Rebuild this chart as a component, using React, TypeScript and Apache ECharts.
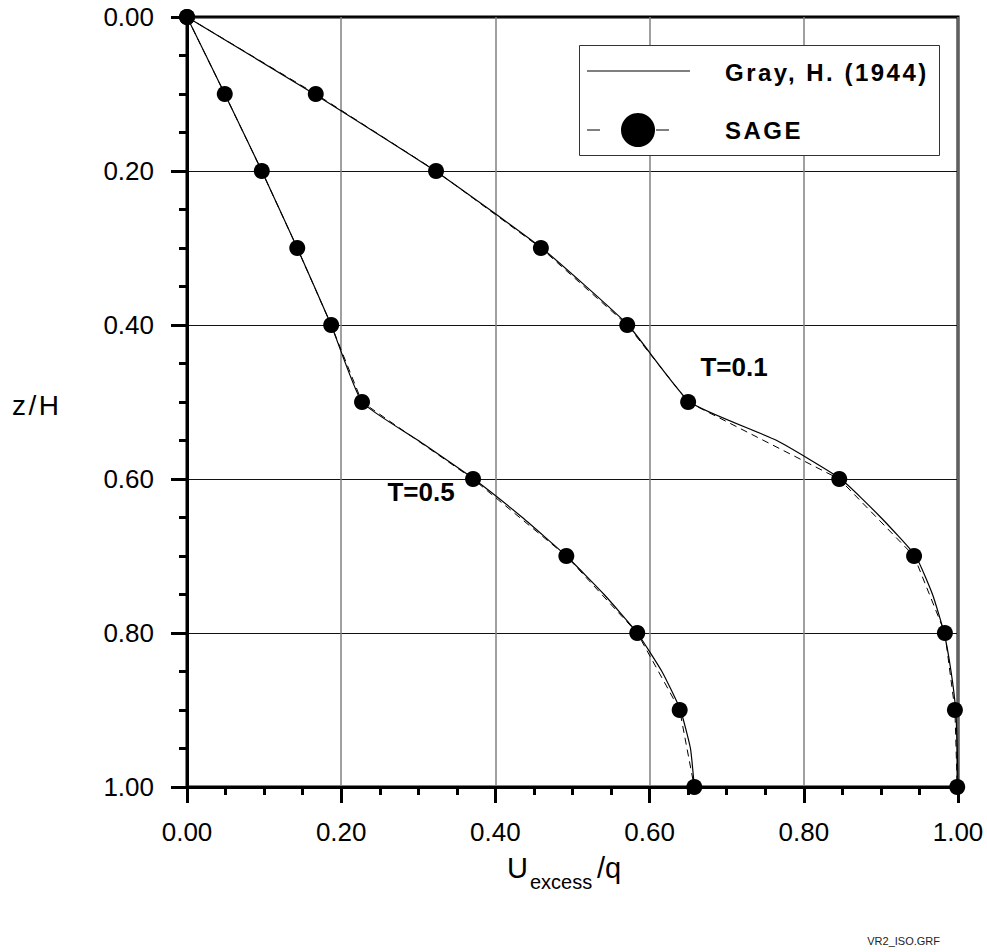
import React, { useEffect, useRef } from "react";
import * as echarts from "echarts";

const FONT = "'Liberation Sans', Arial, sans-serif";
// same face, distinct family list so that a CSS rule can add letter spacing
const SPACED_FONT = "Arimo, 'Liberation Sans', Arial, sans-serif";

// SAGE results (x = Uexcess/q, y = z/H)
const sageZ = [0, 0.1, 0.2, 0.3, 0.4, 0.5, 0.6, 0.7, 0.8, 0.9, 1.0];
const sageT01 = [0, 0.167, 0.323, 0.459, 0.571, 0.65, 0.846, 0.943, 0.983, 0.996, 0.999];
const sageT05 = [0, 0.049, 0.097, 0.143, 0.187, 0.227, 0.371, 0.492, 0.584, 0.639, 0.658];

// Gray, H. (1944) curves
const grayZ = [0, 0.1, 0.2, 0.3, 0.4, 0.5, 0.55, 0.6, 0.65, 0.7, 0.75, 0.8, 0.85, 0.9, 0.95, 1.0];
const grayT01 = [0, 0.165, 0.322, 0.46, 0.572, 0.652, 0.765, 0.848, 0.9, 0.945, 0.967, 0.982, 0.991, 0.997, 0.999, 1.0];
const grayT05 = [0, 0.049, 0.097, 0.143, 0.187, 0.227, 0.3, 0.372, 0.435, 0.492, 0.541, 0.584, 0.616, 0.64, 0.653, 0.658];

const curveLabels = ["T=0.1", "T=0.5"];
const legendNames = ["Gray, H. (1944)", "SAGE"];
const axisTitleParts = ["U", "excess", "/q"];
const yTitle = "z/H";
const footer = "VR2_ISO.GRF";

const pairs = (xs: number[], zs: number[]) => xs.map((x, i) => [x, zs[i]]);

export default function App() {
  const ref = useRef<HTMLDivElement>(null);
  useEffect(() => {
    const chart = echarts.init(ref.current!, null, { renderer: "svg" });
    const gridLeft = 187, gridTop = 17, gridW = 771, gridH = 770;
    const grayLine = (name: string, data: number[][]) => ({
      type: "line",
      name,
      data,
      showSymbol: false,
      symbol: "none",
      smooth: 0.15,
      lineStyle: { color: "#000", width: 1.2 },
      z: 3,
    });
    const sageLine = (name: string, data: number[][]) => ({
      type: "line",
      name,
      data,
      symbol: "circle",
      symbolSize: 16,
      itemStyle: { color: "#000" },
      lineStyle: { color: "#000", width: 1, type: [7, 5] },
      z: 4,
    });
    const axisCommon = {
      type: "value",
      min: 0,
      max: 1,
      interval: 0.2,
      axisLine: { show: true, onZero: false, lineStyle: { color: "#000", width: 3 } },
      axisTick: { show: true, inside: false, length: 16, lineStyle: { color: "#000", width: 3 } },
      minorTick: { show: true, splitNumber: 4, length: 8, lineStyle: { color: "#000", width: 3 } },
    };
    chart.setOption({
      animation: false,
      backgroundColor: "#fff",
      textStyle: { fontFamily: FONT },
      grid: {
        left: gridLeft,
        top: gridTop,
        width: gridW,
        height: gridH,
        show: true,
        borderColor: "#000",
        borderWidth: 3,
        backgroundColor: "transparent",
      },
      xAxis: {
        ...axisCommon,
        position: "bottom",
        splitLine: { show: true, lineStyle: { color: "#808080", width: 1.5 } },
        axisLabel: {
          formatter: (v: number) => v.toFixed(2),
          fontSize: 26,
          color: "#000",
          margin: 32,
          fontFamily: FONT,
        },
      },
      yAxis: {
        ...axisCommon,
        inverse: true,
        position: "left",
        splitLine: { show: true, lineStyle: { color: "#111", width: 1 } },
        axisLabel: {
          formatter: (v: number) => v.toFixed(2),
          fontSize: 26,
          color: "#000",
          margin: 33,
          fontFamily: FONT,
        },
      },
      series: [
        grayLine(legendNames[0], pairs(grayT01, grayZ)),
        grayLine(legendNames[0] + " T0.5", pairs(grayT05, grayZ)),
        sageLine(legendNames[1], pairs(sageT01, sageZ)),
        sageLine(legendNames[1] + " T0.5", pairs(sageT05, sageZ)),
      ],
      graphic: [
        {
          type: "text",
          x: 12,
          y: 405,
          style: { text: yTitle, fontSize: 28, fill: "#000", fontFamily: SPACED_FONT, verticalAlign: "middle" },
        },
        {
          type: "text",
          x: 507,
          y: 868,
          style: { text: axisTitleParts[0], fontSize: 29, fill: "#000", fontFamily: FONT, verticalAlign: "middle" },
        },
        {
          type: "text",
          x: 530,
          y: 882,
          style: { text: axisTitleParts[1], fontSize: 20, fill: "#000", fontFamily: FONT, verticalAlign: "middle" },
        },
        {
          type: "text",
          x: 597,
          y: 868,
          style: { text: axisTitleParts[2], fontSize: 29, fill: "#000", fontFamily: FONT, verticalAlign: "middle" },
        },
        {
          type: "text",
          x: 734,
          y: 367,
          style: { text: curveLabels[0], fontSize: 26, fontWeight: "bold", fill: "#000", fontFamily: FONT, align: "center", verticalAlign: "middle" },
        },
        {
          type: "text",
          x: 421,
          y: 492,
          style: { text: curveLabels[1], fontSize: 26, fontWeight: "bold", fill: "#000", fontFamily: FONT, align: "center", verticalAlign: "middle" },
        },
        // legend box
        {
          type: "rect",
          shape: { x: 579.5, y: 45.5, width: 360, height: 110 },
          style: { fill: "#fff", stroke: "#333", lineWidth: 1 },
          z: 10,
        },
        {
          type: "line",
          shape: { x1: 587, y1: 71, x2: 690, y2: 71 },
          style: { stroke: "#000", lineWidth: 1 },
          z: 11,
        },
        {
          type: "text",
          x: 725,
          y: 72,
          style: { text: legendNames[0], fontSize: 24, fontWeight: "bold", fill: "#000", fontFamily: SPACED_FONT, verticalAlign: "middle" },
          z: 11,
        },
        {
          type: "line",
          shape: { x1: 587, y1: 130, x2: 600, y2: 130 },
          style: { stroke: "#000", lineWidth: 1 },
          z: 11,
        },
        {
          type: "line",
          shape: { x1: 656, y1: 130, x2: 669, y2: 130 },
          style: { stroke: "#000", lineWidth: 1 },
          z: 11,
        },
        {
          type: "circle",
          shape: { cx: 638, cy: 130, r: 17 },
          style: { fill: "#000" },
          z: 11,
        },
        {
          type: "text",
          x: 725,
          y: 130,
          style: { text: legendNames[1], fontSize: 24, fontWeight: "bold", fill: "#000", fontFamily: SPACED_FONT, verticalAlign: "middle" },
          z: 11,
        },
        {
          type: "text",
          x: 940,
          y: 941,
          style: { text: footer, fontSize: 11, fill: "#222", fontFamily: FONT, align: "right", verticalAlign: "middle" },
        },
      ],
    });
    return () => chart.dispose();
  }, []);
  return (
    <>
      <style>{`#chartbox text[style*="Arimo"] { letter-spacing: 2.5px; }`}</style>
      <div
        id="chartbox"
        ref={ref}
        style={{ position: "absolute", left: 0, top: 0, width: 987, height: 952 }}
      />
    </>
  );
}
